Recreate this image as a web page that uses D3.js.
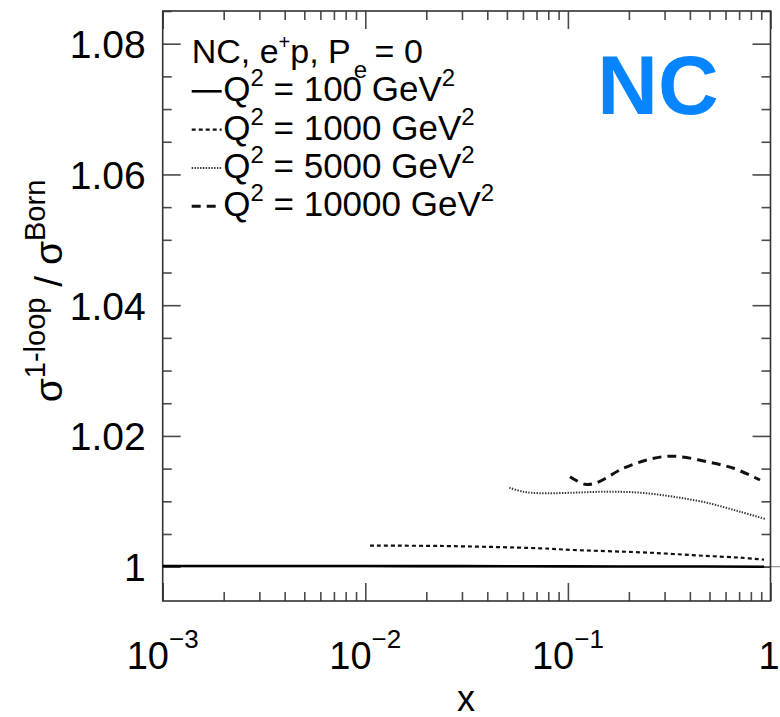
<!DOCTYPE html>
<html>
<head>
<meta charset="utf-8">
<script src="https://cdn.jsdelivr.net/npm/d3@7"></script>
<style>
  html, body { margin: 0; padding: 0; background: #fff; }
  svg { display: block; }
  text { font-family: "Liberation Sans", Arial, Helvetica, sans-serif; fill: #000; }
</style>
</head>
<body>
<svg id="chart" width="780" height="717"></svg>
<script>
// ---------------- DATA ----------------
const xMajorTicks = [1e-3, 1e-2, 1e-1, 1];
const xTickLabels = [["10", "−3"], ["10", "−2"], ["10", "−1"], ["1", ""]];
const yMajorTicks = [1.00, 1.02, 1.04, 1.06, 1.08];
const yTickLabels = ["1", "1.02", "1.04", "1.06", "1.08"];

const seriesNames = ["Q2_100", "Q2_1000", "Q2_5000", "Q2_10000"];
const legendQ2 = ["100", "1000", "5000", "10000"];

// Q^2 = 100 GeV^2 (solid)
const q100_x = [0.001, 0.003, 0.01, 0.03, 0.1, 0.3, 0.93];
const q100_y = [1.0001, 1.0001, 1.0001, 1.00008, 1.00005, 1.00003, 1.0000];
// Q^2 = 1000 GeV^2 (short dashes)
const q1000_x = [0.01055, 0.0234, 0.0728, 0.1063, 0.2269, 0.330, 0.484, 0.707, 0.929];
const q1000_y = [1.00321, 1.00317, 1.00281, 1.00255, 1.00220, 1.00194, 1.00164, 1.00138, 1.00107];
// Q^2 = 5000 GeV^2 (dotted)
const q5000_x = [0.0514, 0.0602, 0.0728, 0.1063, 0.1554, 0.2269, 0.330, 0.484, 0.707, 0.939];
const q5000_y = [1.01208, 1.01147, 1.01123, 1.01132, 1.01147, 1.01132, 1.01071, 1.00979, 1.00841, 1.00730];
// Q^2 = 10000 GeV^2 (long dashes)
const q10000_x = [0.1024, 0.1215, 0.1388, 0.1877, 0.2449, 0.2958, 0.3576, 0.484, 0.6568, 0.8875];
const q10000_y = [1.01377, 1.01260, 1.01285, 1.01505, 1.01632, 1.01683, 1.01683, 1.01606, 1.01505, 1.01326];

// ---------------- LAYOUT ----------------
const svg = d3.select("#chart");
const L = 162.7, R = 770.5, T = 11, B = 601;

const x = d3.scaleLog().domain([1e-3, 1]).range([L, R]);
const y = d3.scaleLinear().domain([0.99475, 1.085]).range([B, T]);

const styles = {
  Q2_100:   { dash: null,      width: 2.6, color: "#000" },
  Q2_1000:  { dash: "4,3",     width: 2.2, color: "#111" },
  Q2_5000:  { dash: "1.4,1.4", width: 2.0, color: "#333" },
  Q2_10000: { dash: "9,6",     width: 3.0, color: "#111" }
};

// minor ticks
const xMinor = [];
for (let e = -3; e < 0; e++) for (let m = 2; m <= 9; m++) xMinor.push(m * Math.pow(10, e));
const yMinor = d3.range(1.005, 1.0851, 0.005).map(v => +v.toFixed(3))
  .filter(v => !yMajorTicks.some(t => Math.abs(t - v) < 1e-6));

const tickColor = "#4a4a4a";
function styleAxis(g) {
  g.select(".domain").remove();
  g.selectAll(".tick line").attr("stroke", tickColor).attr("stroke-width", 1.6);
}

// reference line at 1 extends beyond frame
svg.append("line")
  .attr("x1", L).attr("x2", 780)
  .attr("y1", y(1)).attr("y2", y(1))
  .attr("stroke", "#999").attr("stroke-width", 1.2);

// bottom axis
svg.append("g").attr("transform", `translate(0,${B})`)
  .call(d3.axisBottom(x).tickValues(xMajorTicks).tickSize(-18).tickFormat(""))
  .call(styleAxis);
svg.append("g").attr("transform", `translate(0,${B})`)
  .call(d3.axisBottom(x).tickValues(xMinor).tickSize(-9).tickFormat(""))
  .call(styleAxis);
// top axis
svg.append("g").attr("transform", `translate(0,${T})`)
  .call(d3.axisTop(x).tickValues(xMajorTicks).tickSize(-18).tickFormat(""))
  .call(styleAxis);
svg.append("g").attr("transform", `translate(0,${T})`)
  .call(d3.axisTop(x).tickValues(xMinor).tickSize(-9).tickFormat(""))
  .call(styleAxis);
// left axis
const yLeft = svg.append("g").attr("transform", `translate(${L},0)`)
  .call(d3.axisLeft(y).tickValues(yMajorTicks).tickSize(-18).tickPadding(17)
    .tickFormat((d, i) => yTickLabels[i]))
  .call(styleAxis);
yLeft.selectAll(".tick text")
  .attr("font-size", 39).attr("font-family", "Liberation Sans, Arial, sans-serif")
  .attr("fill", "#000").attr("dy", "0.36em");
svg.append("g").attr("transform", `translate(${L},0)`)
  .call(d3.axisLeft(y).tickValues(yMinor).tickSize(-9).tickFormat(""))
  .call(styleAxis);
// right axis
svg.append("g").attr("transform", `translate(${R},0)`)
  .call(d3.axisRight(y).tickValues(yMajorTicks).tickSize(-18).tickFormat(""))
  .call(styleAxis);
svg.append("g").attr("transform", `translate(${R},0)`)
  .call(d3.axisRight(y).tickValues(yMinor).tickSize(-9).tickFormat(""))
  .call(styleAxis);

// frame
svg.append("rect").attr("x", L).attr("y", T).attr("width", R - L).attr("height", B - T)
  .attr("fill", "none").attr("stroke", "#333").attr("stroke-width", 1.6);

// x tick labels with superscripts
const xl = svg.append("g").selectAll("text").data(xMajorTicks).join("text")
  .attr("x", d => x(d) - (d === 1 ? 1.5 : 0))
  .attr("y", 669)
  .attr("text-anchor", "middle")
  .attr("font-size", 38);
xl.each(function (d, i) {
  const t = d3.select(this);
  t.append("tspan").text(xTickLabels[i][0]);
  if (xTickLabels[i][1]) {
    t.append("tspan").attr("dy", -21).attr("font-size", 26).text(xTickLabels[i][1]);
  }
});

// axis titles
svg.append("text").attr("x", 466).attr("y", 711).attr("text-anchor", "middle")
  .attr("font-size", 36).text("x");

const yt = svg.append("text")
  .attr("transform", "translate(62,291) rotate(-90)")
  .attr("text-anchor", "middle").attr("font-size", 39);
yt.append("tspan").text("σ");
yt.append("tspan").attr("dy", -17).attr("font-size", 29).text("1-loop");
yt.append("tspan").attr("dy", 17).text(" / σ");
yt.append("tspan").attr("dy", -17).attr("font-size", 29).text("Born");

// curves
const line = d3.line().x(d => x(d[0])).y(d => y(d[1])).curve(d3.curveCatmullRom.alpha(0.5));
const seriesData = {
  Q2_100: d3.zip(q100_x, q100_y),
  Q2_1000: d3.zip(q1000_x, q1000_y),
  Q2_5000: d3.zip(q5000_x, q5000_y),
  Q2_10000: d3.zip(q10000_x, q10000_y)
};
seriesNames.forEach(name => {
  const s = styles[name];
  svg.append("path").datum(seriesData[name])
    .attr("d", line)
    .attr("fill", "none")
    .attr("stroke", s.color)
    .attr("stroke-width", s.width)
    .attr("stroke-dasharray", s.dash);
});

// legend
const lgX = 191.7, lgY0 = 63, lgStep = 38.3;
const title = svg.append("text").attr("x", lgX).attr("y", lgY0).attr("font-size", 34);
title.append("tspan").text("NC, e");
title.append("tspan").attr("dy", -14).attr("font-size", 20).text("+");
title.append("tspan").attr("dy", 14).text("p, P");
title.append("tspan").attr("dy", 15).attr("dx", 3).attr("font-size", 24).text("e");
title.append("tspan").attr("dy", -15).attr("dx", -2).text(" = 0");

seriesNames.forEach((name, i) => {
  const s = styles[name];
  const by = lgY0 + lgStep * (i + 1);
  svg.append("line")
    .attr("x1", lgX).attr("x2", lgX + 30)
    .attr("y1", by - 10).attr("y2", by - 10)
    .attr("stroke", s.color).attr("stroke-width", s.width)
    .attr("stroke-dasharray", s.dash);
  const t = svg.append("text").attr("x", lgX + 31.5).attr("y", by).attr("font-size", 35);
  t.append("tspan").text("Q");
  t.append("tspan").attr("dy", -15).attr("font-size", 24).text("2");
  t.append("tspan").attr("dy", 15).text(" = " + legendQ2[i] + " GeV");
  t.append("tspan").attr("dy", -15).attr("font-size", 24).text("2");
});

// NC label
svg.append("text").attr("x", 658).attr("y", 114).attr("text-anchor", "middle")
  .attr("font-size", 84).attr("font-weight", "bold")
  .style("fill", "#0784ff").text("NC");
</script>
</body>
</html>
